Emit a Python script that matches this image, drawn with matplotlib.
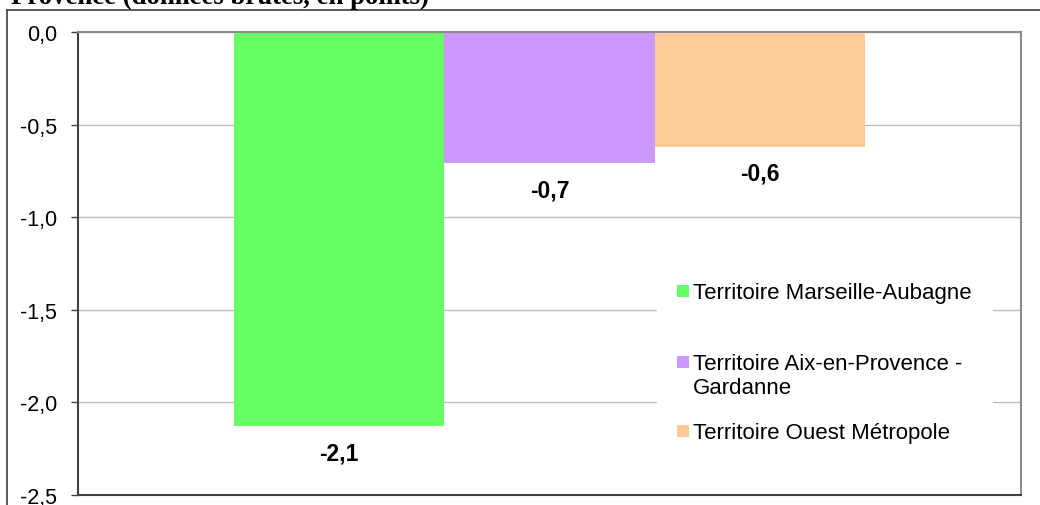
import matplotlib
matplotlib.use('Agg')
import matplotlib.pyplot as plt
from matplotlib.patches import Rectangle
from matplotlib.lines import Line2D

title = "Provence (données brutes, en points)"
series = ["Territoire Marseille-Aubagne",
          "Territoire Aix-en-Provence -\nGardanne",
          "Territoire Ouest Métropole"]
values = [-2.13, -0.71, -0.62]
value_labels = ["-2,1", "-0,7", "-0,6"]
colors = ["#66FF66", "#CC99FF", "#FFCC99"]
yticks = [0.0, -0.5, -1.0, -1.5, -2.0, -2.5]
ytick_labels = ["0,0", "-0,5", "-1,0", "-1,5", "-2,0", "-2,5"]

plt.rcParams['font.family'] = ['Liberation Sans', 'DejaVu Sans']

W, H = 1040, 506
fig = plt.figure(figsize=(10.4, 5.06), dpi=100)


def fx(px):
    return px / W


def fy(py):
    return 1 - py / H


# outer chart-area frame (cropped on right/bottom)
fig.add_artist(Line2D([fx(7), 1.0], [fy(11), fy(11)], transform=fig.transFigure,
                      color='#404040', lw=1.2))
fig.add_artist(Line2D([fx(7), fx(7)], [fy(11), 0.0], transform=fig.transFigure,
                      color='#404040', lw=1.2))

# title (cropped at the top in the reference)
fig.text(fx(11), fy(4.5), title, family=['Liberation Serif', 'DejaVu Serif'],
         fontweight='bold', fontsize=19.3, ha='left', va='baseline')

ax = fig.add_axes([fx(78), fy(496), fx(1021) - fx(78), fy(33) - fy(496)])
ax.set_xlim(-0.5, 0.5)
ax.set_ylim(-2.5, 0)

bw = 0.2231
n = len(values)
for i, (v, c, lab) in enumerate(zip(values, colors, value_labels)):
    x = (i - (n - 1) / 2) * bw
    ax.bar(x, v, width=bw, color=c, zorder=2, linewidth=0)
    ax.annotate(lab, (x, v), xytext=(0, -19), textcoords='offset points',
                ha='center', va='center', fontsize=16.5, fontweight='bold')

ax.set_yticks(yticks, ytick_labels)
ax.set_xticks([])
ax.tick_params(axis='y', direction='out', length=5, width=1, color='#404040',
               pad=10, labelsize=15.5)
ax.yaxis.grid(True, color='#BFBFBF', lw=1)
ax.set_axisbelow(True)
for s in ['left', 'bottom']:
    ax.spines[s].set_color('#404040')
    ax.spines[s].set_linewidth(1.5)
for s in ['top', 'right']:
    ax.spines[s].set_color('#8C8C8C')
    ax.spines[s].set_linewidth(1.5)

# legend (manual, Excel-like placement)
ax.add_patch(Rectangle((fx(657), fy(462)), fx(993) - fx(657), fy(262) - fy(462),
                       transform=fig.transFigure, facecolor='white',
                       edgecolor='none', zorder=3))
entry_centers = [292, 363, 432]
line_pitch = 24
for lab, c, yc in zip(series, colors, entry_centers):
    ax.add_patch(Rectangle((fx(677), fy(yc + 6)), fx(12), 12 / H,
                           transform=fig.transFigure, facecolor=c,
                           edgecolor='none', zorder=4))
    for k, line in enumerate(lab.split('\n')):
        fig.text(fx(693), fy(yc + 7 + k * line_pitch), line, fontsize=16,
                 ha='left', va='baseline', zorder=5)

fig.savefig('out.png', dpi=100)
